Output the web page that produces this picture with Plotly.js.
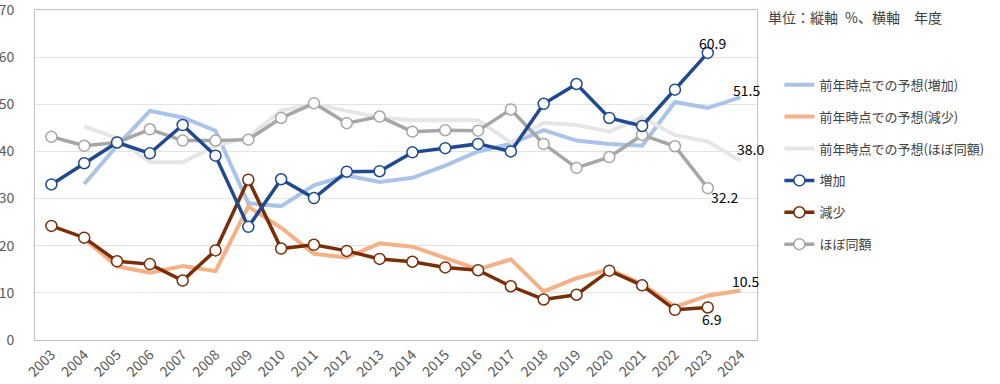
<!DOCTYPE html>
<html><head><meta charset="utf-8">
<script src="https://cdn.plot.ly/plotly-3.0.1.min.js"></script>
<style>html,body{margin:0;padding:0;background:#fff}#chart{width:1000px;height:384px}</style>
</head><body><div id="chart"></div>
<script>
const years = ['2003','2004','2005','2006','2007','2008','2009','2010','2011','2012','2013','2014','2015','2016','2017','2018','2019','2020','2021','2022','2023','2024'];
const forecastYears = years.slice(1);
const actualYears = years.slice(0, 21);

const forecastIncrease = [33.1, 41.2, 48.6, 47.2, 44.4, 29.0, 28.4, 32.8, 34.9, 33.5, 34.4, 37.0, 40.0, 41.6, 44.5, 42.3, 41.6, 41.2, 50.5, 49.2, 51.5];
const forecastDecrease = [21.5, 15.6, 14.3, 15.7, 14.6, 28.3, 23.8, 18.3, 17.5, 20.5, 19.8, 17.5, 15.0, 17.1, 10.3, 13.1, 15.0, 11.9, 7.0, 9.4, 10.5];
const forecastSame = [45.3, 42.8, 37.7, 37.7, 41.2, 43.0, 48.7, 50.0, 48.6, 47.2, 46.6, 46.6, 46.6, 41.9, 46.1, 45.6, 44.2, 47.2, 43.5, 42.1, 38.0];

const increase = [33.0, 37.5, 41.9, 39.6, 45.6, 39.1, 24.0, 34.1, 30.1, 35.7, 35.8, 39.8, 40.7, 41.6, 40.0, 50.1, 54.3, 47.1, 45.4, 53.1, 60.9];
const decrease = [24.2, 21.7, 16.7, 16.1, 12.6, 19.0, 34.0, 19.4, 20.2, 18.9, 17.2, 16.6, 15.4, 14.8, 11.4, 8.6, 9.6, 14.7, 11.6, 6.4, 6.9];
const same = [43.1, 41.2, 41.9, 44.7, 42.3, 42.3, 42.5, 47.1, 50.2, 46.0, 47.4, 44.2, 44.5, 44.4, 48.9, 41.6, 36.5, 38.8, 43.5, 41.1, 32.2];

const names = ['前年時点での予想(増加)','前年時点での予想(減少)','前年時点での予想(ほぼ同額)','増加','減少','ほぼ同額'];
const unitNote = '単位：縦軸\u2002%、横軸\u3000年度';

const font = 'Noto Sans CJK JP, Noto Sans, sans-serif';

function fc(y, color, name, g, rank) {
  return {x: forecastYears, y: y, name: name, type: 'scatter', mode: 'lines',
    line: {color: color, width: 4}, legendgroup: g, legendrank: rank};
}
function act(y, color, name, g, rank) {
  return {x: actualYears, y: y, name: name, type: 'scatter', mode: 'lines+markers',
    line: {color: color, width: 3.5},
    marker: {symbol: 'circle', size: 11, color: '#ffffff', line: {color: color, width: 1.5}},
    legendgroup: g, legendrank: rank};
}

const data = [
  fc(forecastIncrease, '#a9c3ea', names[0], 'a', 1),
  fc(forecastDecrease, '#f5b085', names[1], 'b', 2),
  fc(forecastSame, '#e6e6e6', names[2], 'c', 3),
  act(same, '#a6a6a6', names[5], 'f', 6),
  act(decrease, '#7a2e08', names[4], 'e', 5),
  act(increase, '#1f4a92', names[3], 'd', 4)
];

function lastOf(arr, xs) { return {x: years.indexOf(xs[xs.length - 1]), y: arr[arr.length - 1]}; }
const labFont = {family: font, size: 14, color: '#000000'};
const lbl = (p, xs, ys) => ({x: p.x, y: p.y, xref: 'x', yref: 'y', text: p.y.toFixed(1), showarrow: false, font: labFont, xshift: xs, yshift: ys});

const annotations = [
  lbl(lastOf(increase, actualYears), 5, 10),
  lbl(lastOf(forecastIncrease, forecastYears), 5.5, 7),
  lbl(lastOf(forecastSame, forecastYears), 10, 12),
  lbl(lastOf(same, actualYears), 16.5, -9),
  lbl(lastOf(forecastDecrease, forecastYears), 4.5, 9.5),
  lbl(lastOf(decrease, actualYears), 4.5, -12),
  {x: 1.0125, y: 1.014, xref: 'paper', yref: 'paper', xanchor: 'left', yanchor: 'top', text: unitNote,
   showarrow: false, font: {family: font, size: 14, color: '#404040'}}
];

const layout = {
  width: 1000, height: 384,
  margin: {l: 35, r: 243, t: 10, b: 44},
  paper_bgcolor: '#ffffff', plot_bgcolor: '#ffffff',
  showlegend: true,
  legend: {x: 1.031, y: 0.819, xanchor: 'left', yanchor: 'top', traceorder: 'grouped', tracegroupgap: 12,
    font: {family: font, size: 13, color: '#404040'}, bgcolor: 'rgba(0,0,0,0)', itemwidth: 30},
  xaxis: {type: 'category', categoryorder: 'array', categoryarray: years, range: [-0.5, 21.5], tickangle: -45, showgrid: false,
    showline: true, linecolor: '#bfbfbf', linewidth: 1, mirror: true, ticks: '',
    tickfont: {family: font, size: 14, color: '#595959'}, fixedrange: true},
  yaxis: {range: [0, 70], tickvals: [0, 10, 20, 30, 40, 50, 60, 70], showgrid: true, gridcolor: '#e3e3e3', gridwidth: 1,
    showline: true, linecolor: '#bfbfbf', linewidth: 1, mirror: true, ticks: '', zeroline: false,
    ticklabeloverflow: 'allow',
    tickfont: {family: font, size: 14, color: '#595959'}, ticklabelstandoff: 17, fixedrange: true},
  annotations: annotations
};

Plotly.newPlot('chart', data, layout, {staticPlot: true});
</script></body></html>
